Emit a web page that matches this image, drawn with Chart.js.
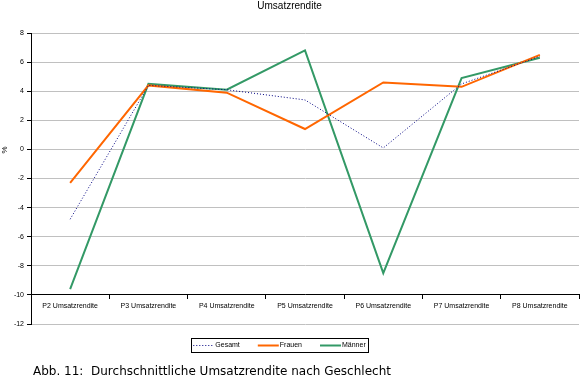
<!DOCTYPE html>
<html>
<head>
<meta charset="utf-8">
<script src="https://cdn.jsdelivr.net/npm/chart.js@4/dist/chart.umd.min.js"></script>
<style>
  body { margin: 0; background: #fff; }
  #wrap { position: relative; width: 581px; height: 384px; }
  #cap { position: absolute; left: 33px; top: 364px; font: 12px "DejaVu Sans", Verdana, sans-serif; color: #000; white-space: pre; }
</style>
</head>
<body>
<div id="wrap">
  <canvas id="chart" width="581" height="384"></canvas>
  <div id="cap">Abb. 11:  Durchschnittliche Umsatzrendite nach Geschlecht</div>
</div>
<script>
const labels = ['P2 Umsatzrendite', 'P3 Umsatzrendite', 'P4 Umsatzrendite', 'P5 Umsatzrendite',
                'P6 Umsatzrendite', 'P7 Umsatzrendite', 'P8 Umsatzrendite'];
const gesamt  = [-4.8, 4.4, 4.1, 3.4, 0.1, 4.5, 6.4];
const frauen  = [-2.3, 4.4, 3.9, 1.4, 4.6, 4.3, 6.5];
const maenner = [-9.6, 4.5, 4.1, 6.8, -8.5, 4.9, 6.3];
const yMin = -12, yMax = 8, yStep = 2;

const smallFont = { family: '"Liberation Sans", Arial, sans-serif', size: 7 };

// excel style legend with a black frame under the plot, plus the "%" axis title
const legendBox = {
  id: 'legendBox',
  afterDraw(chart) {
    const ctx = chart.ctx;
    const bx = 191, by = 338, bw = 177, bh = 14;
    const lineLen = 21, gap = 18;
    ctx.save();
    ctx.strokeStyle = '#000';
    ctx.lineWidth = 1;
    ctx.strokeRect(bx + 0.5, by + 0.5, bw, bh);
    ctx.font = '7px "Liberation Sans", Arial, sans-serif';
    ctx.textBaseline = 'middle';
    ctx.fillStyle = '#000';
    const ds = chart.data.datasets;
    const widths = ds.map(d => ctx.measureText(d.label).width);
    const total = widths.reduce((a, w) => a + lineLen + 1 + w, 0) + gap * (ds.length - 1);
    let x = bx + (bw - total) / 2;
    const cy = by + bh / 2 + 0.5;
    ds.forEach((d, i) => {
      ctx.beginPath();
      ctx.strokeStyle = d.borderColor;
      ctx.lineWidth = d.borderWidth;
      ctx.setLineDash(d.borderDash || []);
      ctx.moveTo(x, cy);
      ctx.lineTo(x + lineLen, cy);
      ctx.stroke();
      ctx.setLineDash([]);
      ctx.fillText(d.label, x + lineLen + 1, cy);
      x += lineLen + 1 + widths[i] + gap;
    });

    // axis title, excel puts it a bit above the middle
    ctx.translate(5, 150);
    ctx.rotate(-Math.PI / 2);
    ctx.font = '8px "Liberation Sans", Arial, sans-serif';
    ctx.textAlign = 'center';
    ctx.fillText('%', 0, 0);
    ctx.restore();
  }
};

new Chart(document.getElementById('chart'), {
  type: 'line',
  data: {
    labels: labels,
    datasets: [
      { label: 'Gesamt', data: gesamt, borderColor: '#000080', borderWidth: 1, borderDash: [1, 2] },
      { label: 'Frauen', data: frauen, borderColor: '#FF6600', borderWidth: 2 },
      { label: 'Männer', data: maenner, borderColor: '#339966', borderWidth: 2 }
    ]
  },
  options: {
    responsive: false,
    animation: false,
    elements: { point: { radius: 0 }, line: { tension: 0 } },
    layout: { padding: { left: 0, right: 2, top: 0, bottom: 60 } },
    plugins: {
      legend: { display: false },
      tooltip: { enabled: false },
      title: {
        display: true,
        text: 'Umsatzrendite',
        color: '#000',
        font: { family: smallFont.family, size: 10, weight: 'normal' },
        padding: { top: 0, bottom: 21 }
      }
    },
    scales: {
      x: {
        position: { y: -10 },
        offset: true,
        grid: { offset: true, drawOnChartArea: false, drawTicks: true, tickLength: 4, tickColor: '#000' },
        border: { color: '#000', width: 1 },
        ticks: { color: '#000', font: smallFont, padding: 3, maxRotation: 0, autoSkip: false }
      },
      y: {
        min: yMin,
        max: yMax,
        afterFit: s => { s.width = 31; },
        ticks: { stepSize: yStep, color: '#000', font: smallFont, padding: 3 },
        grid: { color: '#C0C0C0', tickColor: '#000', tickLength: 4 },
        border: { color: '#000', width: 1 }
      }
    }
  },
  plugins: [legendBox]
});
</script>
</body>
</html>
